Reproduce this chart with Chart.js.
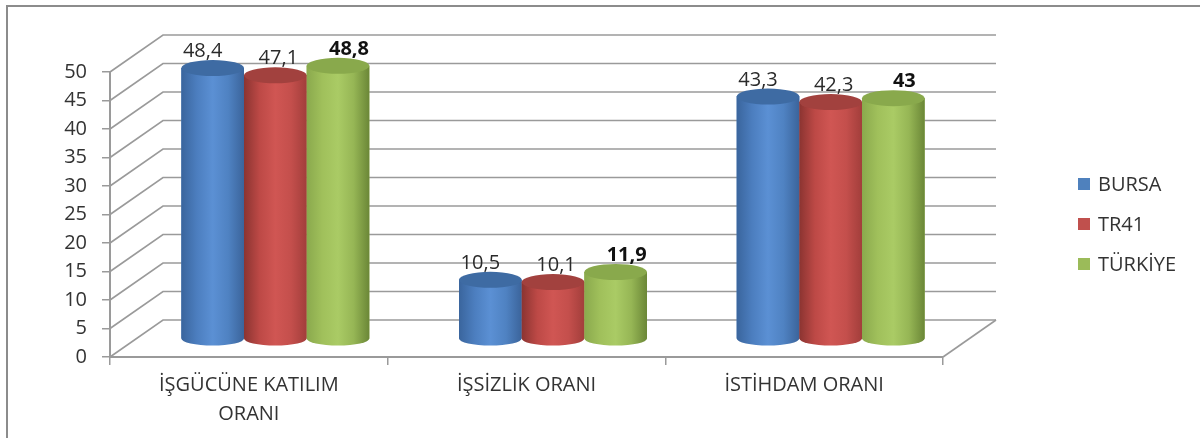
<!DOCTYPE html>
<html>
<head>
<meta charset="utf-8">
<script src="https://cdn.jsdelivr.net/npm/chart.js@4.4.1/dist/chart.umd.min.js"></script>
<style>
html, body { margin: 0; padding: 0; background: #fff; }
#wrap { width: 1200px; height: 438px; }
</style>
</head>
<body>
<div id="wrap"><canvas id="myBarChart" width="1200" height="438"></canvas></div>
<script>
var categories = [['İŞGÜCÜNE KATILIM', 'ORANI'], 'İŞSİZLİK ORANI', 'İSTİHDAM ORANI'];
var seriesNames = ['BURSA', 'TR41', 'TÜRKİYE'];
var bursaData = [48.4, 10.5, 43.3];
var tr41Data = [47.1, 10.1, 42.3];
var turkiyeData = [48.8, 11.9, 43];
var yTicks = [0, 5, 10, 15, 20, 25, 30, 35, 40, 45, 50];

var baseColors = ['#4f81bd', '#c0504d', '#9bbb59'];
// cylinder shading, left -> right
var shades = [
    ['#3a659d', '#4c7ebf', '#5b90d4', '#4f82c2', '#3b649b'],
    ['#8b3431', '#bd4946', '#d05653', '#c44f4c', '#a23e3b'],
    ['#8aa94d', '#a0c05b', '#aacb65', '#96b655', '#6b8737']
];
var topColors = ['#3e6ba3', '#a2413e', '#89a94c'];
var labelShift = [-10, 3, 11];
var depth = { x: 53, y: -37 };

function fmt(v) {
    return String(v).replace('.', ',');
}

var frame3d = {
    id: 'frame3d',
    beforeDraw: function(chart) {
        var ctx = chart.ctx;
        ctx.save();
        ctx.fillStyle = '#fff';
        ctx.fillRect(0, 0, chart.width, chart.height);
        ctx.strokeStyle = '#8c8c8c';
        ctx.lineWidth = 2;
        ctx.strokeRect(7, 6, chart.width + 20, chart.height + 20);
        ctx.restore();
    },
    beforeDatasetsDraw: function(chart) {
        var ctx = chart.ctx, y = chart.scales.y, a = chart.chartArea;
        ctx.save();
        ctx.strokeStyle = '#9a9a9a';
        ctx.lineWidth = 1.6;
        yTicks.forEach(function(v) {
            var py = y.getPixelForValue(v);
            ctx.beginPath();
            ctx.moveTo(a.left, py);
            ctx.lineTo(a.left + depth.x, py + depth.y);
            ctx.lineTo(a.right + depth.x, py + depth.y);
            ctx.stroke();
        });
        // floor right edge
        ctx.beginPath();
        ctx.moveTo(a.right, a.bottom);
        ctx.lineTo(a.right + depth.x, a.bottom + depth.y);
        ctx.stroke();
        ctx.restore();

        // bars sit half way into the depth
        ctx.save();
        ctx.translate(depth.x / 2, depth.y / 2);
    },
    afterDatasetsDraw: function(chart) {
        var ctx = chart.ctx;
        chart.data.datasets.forEach(function(ds, i) {
            var meta = chart.getDatasetMeta(i);
            meta.data.forEach(function(bar) {
                var p = bar.getProps(['x', 'y', 'base', 'width'], true);
                var x0 = p.x - p.width / 2, x1 = p.x + p.width / 2;
                var g = ctx.createLinearGradient(x0, 0, x1, 0);
                shades[i].forEach(function(c, k) {
                    g.addColorStop(k / (shades[i].length - 1), c);
                });
                ctx.fillStyle = g;
                ctx.beginPath();
                ctx.moveTo(x0, p.y);
                ctx.lineTo(x0, p.base);
                ctx.ellipse(p.x, p.base, p.width / 2, 7, 0, Math.PI, 0, true);
                ctx.lineTo(x1, p.y);
                ctx.closePath();
                ctx.fill();

                ctx.fillStyle = topColors[i];
                ctx.beginPath();
                ctx.ellipse(p.x, p.y, p.width / 2, 8, 0, 0, Math.PI * 2);
                ctx.fill();
            });
        });
        // value labels
        chart.data.datasets.forEach(function(ds, i) {
            var meta = chart.getDatasetMeta(i);
            ctx.font = (i === 2 ? 'bold ' : '') + '20px "Open Sans"';
            ctx.fillStyle = i === 2 ? '#111' : '#2a2a2a';
            ctx.textAlign = 'center';
            ctx.textBaseline = 'alphabetic';
            meta.data.forEach(function(bar, j) {
                var p = bar.getProps(['x', 'y'], true);
                ctx.fillText(fmt(ds.data[j]), p.x + labelShift[i], p.y - 11);
            });
        });
        ctx.restore();
    },
    afterDraw: function(chart) {
        var ctx = chart.ctx;
        ctx.save();
        ctx.font = '20px "Open Sans"';
        ctx.textAlign = 'left';
        ctx.textBaseline = 'alphabetic';
        chart.data.datasets.forEach(function(ds, i) {
            ctx.fillStyle = baseColors[i];
            ctx.fillRect(1078, 178 + i * 40, 12, 12);
            ctx.fillStyle = '#333';
            ctx.fillText(ds.label, 1098, 191 + i * 40);
        });
        ctx.restore();
    }
};

var ctx = document.getElementById('myBarChart').getContext('2d');
var myChart = new Chart(ctx, {
    type: 'bar',
    data: {
        labels: categories,
        datasets: [
            { label: seriesNames[0], data: bursaData, backgroundColor: baseColors[0], yAxisID: 'yb' },
            { label: seriesNames[1], data: tr41Data, backgroundColor: baseColors[1], yAxisID: 'yb' },
            { label: seriesNames[2], data: turkiyeData, backgroundColor: baseColors[2], yAxisID: 'yb' }
        ]
    },
    options: {
        responsive: false,
        animation: false,
        devicePixelRatio: 1,
        datasets: {
            bar: { categoryPercentage: 0.677, barPercentage: 1, clip: false, borderWidth: 0 }
        },
        layout: { padding: { top: 72, right: 257, bottom: 0, left: 0 } },
        scales: {
            x: {
                grid: { display: true, drawOnChartArea: false, tickLength: 8, color: '#9a9a9a', lineWidth: 1.5, offset: true },
                border: { display: true, color: '#9a9a9a', width: 2 },
                ticks: {
                    color: '#333',
                    font: { family: 'Open Sans', size: 20, lineHeight: 1.45 },
                    padding: 6,
                    maxRotation: 0,
                    autoSkip: false
                },
                afterFit: function(s) { s.height = 81; }
            },
            y: {
                min: 0,
                max: 50,
                ticks: { stepSize: 5, color: '#333', font: { family: 'Open Sans', size: 20 }, padding: 15, autoSkip: false },
                grid: { drawOnChartArea: false, tickLength: 8, color: '#9a9a9a', lineWidth: 1.5 },
                border: { display: true, color: '#9a9a9a', width: 2 },
                afterFit: function(s) { s.width = 110; }
            },
            // bar tops read slightly lower in the reference's perspective view
            yb: { display: false, min: 0, max: 51 }
        },
        plugins: {
            legend: { display: false },
            tooltip: { enabled: false }
        }
    },
    plugins: [frame3d]
});
</script>
</body>
</html>
